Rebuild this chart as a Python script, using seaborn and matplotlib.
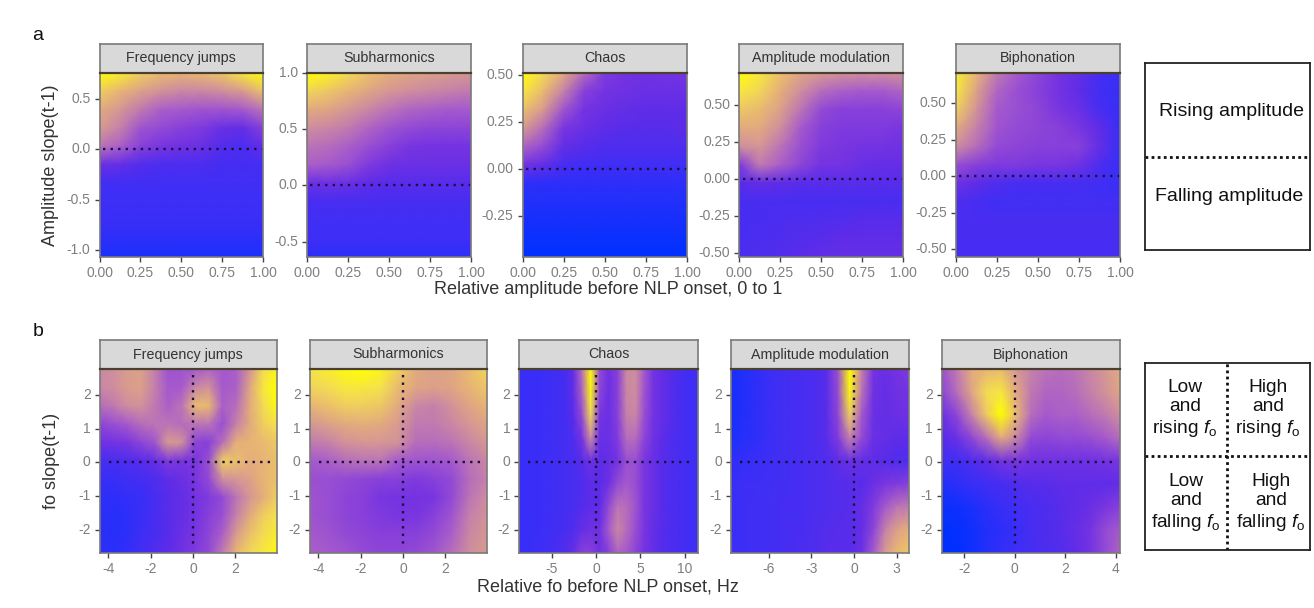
import numpy as np
import pandas as pd
import seaborn as sns
import matplotlib
matplotlib.use("Agg")
import matplotlib.pyplot as plt
from matplotlib.colors import LinearSegmentedColormap

sns.set_theme(style="white")
plt.rcParams['font.family'] = ['Liberation Sans', 'DejaVu Sans']
plt.rcParams['mathtext.fontset'] = 'custom'
plt.rcParams['mathtext.it'] = 'Liberation Sans:italic'
plt.rcParams['mathtext.rm'] = 'Liberation Sans'

W, H = 1314, 608
titles = ["Frequency jumps", "Subharmonics", "Chaos", "Amplitude modulation", "Biphonation"]

# colour strength, 0 (blue) to 100 (yellow); rows run top to bottom
amp_fj = [[100,94,84,78,76,78,82,92,100],[84,76,68,62,58,58,60,66,80],[72,64,54,46,44,42,42,44,52],
          [66,56,42,38,34,32,24,22,34],[52,46,34,30,26,24,17,15,22],[24,22,17,15,15,15,13,13,13],
          [12]*9,[11]*9,[10]*9,[8]*9,[5]*9]
amp_sub = [[100,96,88,80,74,70,68,66,64],[86,82,76,70,64,60,58,56,54],[72,70,64,58,52,48,46,44,44],
           [60,58,54,48,42,38,36,36,36],[52,50,46,40,34,30,28,28,28],[46,44,40,32,26,24,24,24,24],
           [24,26,24,20,18,18,18,18,18],[14]*9,[12]*9,[11]*9,[8]*9]
amp_chaos = [[100,88,72,50,32,28,26,28,28],[92,78,56,34,28,26,24,24,24],[80,66,42,28,24,22,20,20,20],
             [66,50,30,24,20,18,18,18,20],[48,38,22,18,16,16,16,16,16],[28,22,14,12,12,12,12,12,12],
             [8]*9,[6]*9,[4]*9,[2]*9,[0]*9]
amp_am = [[100,92,80,70,66,62,60,60,62],[92,86,74,60,50,46,44,44,48],[82,78,68,52,38,34,34,34,36],
          [72,72,60,44,34,32,32,32,30],[60,64,52,40,32,30,28,28,26],[32,54,46,36,28,28,24,22,22],
          [18,22,20,18,18,18,18,18,18],[14]*9,[14,14,15,16,16,17,18,18,18],
          [14,15,16,17,18,20,20,20,20],[15,16,17,19,21,22,22,22,22]]
amp_bi = [[94,76,54,44,36,28,22,14,10],[92,68,48,40,34,28,20,12,10],[84,62,44,40,36,30,24,14,10],
          [72,56,42,38,36,34,30,20,10],[60,50,38,36,34,34,34,22,10],[40,34,32,32,30,30,26,16,10],
          [26,20,16,14,14,14,14,12,10],[16,14,12,12,12,12,12,12,12],[14]*9,[14]*9,[13]*9]

fo_fj = [[58,60,66,68,56,42,42,44,48,44,46,62,88,96],[58,60,66,68,56,44,44,58,62,44,46,70,92,100],
         [50,54,60,62,54,46,52,78,78,46,50,72,88,98],[36,40,44,50,52,52,50,52,52,40,56,72,84,90],
         [26,28,30,36,42,66,62,36,34,50,74,76,78,82],[14,14,16,18,22,32,30,30,40,84,80,74,76,80],
         [10,10,12,13,16,20,24,30,38,60,64,68,76,80],[8,8,9,10,14,18,22,28,32,38,52,64,74,84],
         [8,7,8,10,14,18,22,28,34,40,56,72,84,90],[8,7,8,11,14,18,24,30,36,46,66,80,88,94],
         [8,8,9,12,16,20,26,32,38,54,76,86,92,98]]
fo_sub = [[90,94,98,100,96,84,72,68,70,78,86],[86,88,92,92,90,78,70,68,70,76,82],[76,80,84,84,82,72,58,56,62,70,76],
          [64,68,72,74,72,66,54,54,58,64,70],[54,56,62,64,64,62,50,50,52,58,64],[44,46,50,52,52,44,42,42,44,52,58],
          [40,40,38,36,34,34,32,34,38,50,56],[42,40,36,34,30,28,28,30,38,52,60],[42,40,36,34,32,30,30,34,42,56,62],
          [44,42,38,36,34,34,34,38,46,58,64],[46,44,42,38,36,36,38,42,50,60,66]]
fo_chaos = [[10,10,10,11,12,13,20,50,100,38,26,34,58,60,44,28,22,18,14,12,12],
            [10,10,10,11,12,13,20,46,98,36,24,34,58,60,42,28,22,18,14,12,12],
            [10,10,10,11,12,13,18,38,88,30,24,34,56,58,40,28,22,18,14,12,12],
            [10,10,10,11,12,13,16,28,60,24,24,32,50,50,36,26,20,16,14,12,12],
            [10,10,10,11,12,13,14,18,26,20,22,28,40,40,30,24,18,16,14,12,12],
            [10,10,10,11,12,13,14,16,20,18,26,38,44,40,30,24,18,15,14,12,12],
            [10,10,10,11,12,13,14,17,20,20,38,52,50,42,30,24,18,15,14,12,12],
            [10,10,10,11,12,14,16,22,26,26,44,58,50,40,30,22,18,15,14,12,12],
            [10,10,11,12,14,17,22,34,34,26,34,48,44,36,28,22,17,15,14,12,12]]
fo_am = [[4,6,8,10,12,13,14,15,18,40,100,56,28,24,28,32],[4,6,8,10,12,13,14,15,18,38,98,52,26,22,26,28],
         [4,6,8,10,12,13,14,15,18,36,84,44,24,22,24,26],[5,7,8,10,12,13,14,15,18,32,56,38,24,22,20,20],
         [8,9,10,11,12,13,14,15,16,20,24,22,20,18,16,16],[10,11,11,12,12,13,14,15,16,17,18,18,24,30,32,34],
         [10,11,12,12,13,13,14,15,16,17,18,22,32,44,52,54],[10,11,12,12,13,14,14,16,17,18,18,22,36,56,68,74],
         [11,11,12,12,13,14,15,16,18,18,18,24,44,66,78,82]]
fo_bi = [[40,54,72,76,78,64,56,52,50,52,58,64,72],[36,50,70,88,92,72,54,48,48,50,56,62,70],
         [24,36,56,82,100,78,50,44,46,46,50,54,60],[18,24,36,50,72,58,38,36,38,38,40,44,50],
         [12,12,16,20,28,30,26,26,26,26,26,28,30],[6,8,10,12,14,16,18,18,20,20,20,20,22],
         [2,3,5,8,10,12,14,16,18,20,24,30,34],[0,1,3,6,8,10,14,16,18,22,28,38,44],
         [0,0,3,6,9,11,13,15,17,20,28,38,48]]

amp_grids = [amp_fj, amp_sub, amp_chaos, amp_am, amp_bi]
fo_grids = [fo_fj, fo_sub, fo_chaos, fo_am, fo_bi]

amp_xlim = (0.0, 1.0)
amp_xticks = [0.0, 0.25, 0.5, 0.75, 1.0]
amp_ylims = [(-1.06, 0.76), (-0.633, 1.0), (-0.466, 0.512), (-0.524, 0.722), (-0.548, 0.71)]
amp_yticks = [[-1.0, -0.5, 0.0, 0.5], [-0.5, 0.0, 0.5, 1.0], [-0.25, 0.0, 0.25, 0.5],
              [-0.5, -0.25, 0.0, 0.25, 0.5], [-0.5, -0.25, 0.0, 0.25, 0.5]]
amp_yfmt = ["%.1f", "%.1f", "%.2f", "%.2f", "%.2f"]

fo_xlims = [(-4.4, 3.96), (-4.4, 3.96), (-8.66, 11.5), (-8.66, 3.87), (-2.9, 4.17)]
fo_xticks = [[-4, -2, 0, 2], [-4, -2, 0, 2], [-5, 0, 5, 10], [-6, -3, 0, 3], [-2, 0, 2, 4]]
fo_ylim = (-2.68, 2.78)
fo_yticks = [-2, -1, 0, 1, 2]

amp_x_px = [(99.6, 263), (307, 471), (522.5, 687), (739.4, 903), (956, 1120)]
fo_x_px = [(99.7, 277), (309.7, 487), (519.3, 697.8), (731, 909), (941.7, 1120)]

cmap = LinearSegmentedColormap.from_list(
    "blue_yellow", [(0, "#0030ff"), (0.1, "#3a2ef7"), (0.2, "#5f2ce8"), (0.3, "#7a35e0"), (0.45, "#a85ccb"),
                    (0.6, "#cf8e9e"), (0.75, "#e6b078"), (0.9, "#f5e150"), (1, "#ffff00")])

GREY = "#7f7f7f"
BORDER = "#7a7a7a"
DOT = (0, (1, 2.2))
fig = plt.figure(figsize=(W / 100, H / 100), dpi=100, facecolor="white")


def axes_px(x0, x1, y0, y1):
    return fig.add_axes([x0 / W, 1 - y1 / H, (x1 - x0) / W, (y1 - y0) / H])


def panel(grid, xlim, ylim, xticks, yticks, xpos, ypx, title, fmt_x, fmt_y, vmargin, hmargin):
    ax = axes_px(xpos[0], xpos[1], ypx[0], ypx[1])
    arr = np.array(grid) / 100.0
    rows, cols = arr.shape
    sns.heatmap(pd.DataFrame(arr), ax=ax, cmap=cmap, vmin=0, vmax=1, cbar=False, shading="gouraud")
    ax.set_xlim(0, cols - 1)
    ax.set_ylim(rows - 1, 0)
    to_x = lambda v: (v - xlim[0]) / (xlim[1] - xlim[0]) * (cols - 1)
    to_y = lambda v: (ylim[1] - v) / (ylim[1] - ylim[0]) * (rows - 1)
    ax.set_xticks([to_x(v) for v in xticks])
    ax.set_xticklabels([fmt_x(v) for v in xticks], rotation=0)
    ax.set_yticks([to_y(v) for v in yticks])
    ax.set_yticklabels([fmt_y(v) for v in yticks], rotation=0)
    ax.tick_params(axis="both", length=3.5, width=1.0, color="#444444", labelcolor=GREY,
                   labelsize=10, pad=3, bottom=True, left=True)
    ax.set_xlabel("")
    ax.set_ylabel("")
    ax.hlines(to_y(0), to_x(hmargin[0]), to_x(hmargin[1]), colors="#1a1040", linestyles=DOT, linewidth=1.7)
    if vmargin is not None:
        ax.vlines(to_x(0), to_y(vmargin[1]), to_y(vmargin[0]), colors="#1a1040", linestyles=DOT, linewidth=1.7)
    for s in ax.spines.values():
        s.set_visible(True)
        s.set_color(BORDER)
        s.set_linewidth(1.2)
    # facet strip
    st = axes_px(xpos[0], xpos[1], ypx[0] - 29, ypx[0])
    st.set_facecolor("#d9d9d9")
    st.set_xticks([])
    st.set_yticks([])
    for k, s in st.spines.items():
        s.set_visible(True)
        s.set_color(BORDER)
        s.set_linewidth(1.2)
    st.spines["bottom"].set_color("#4a4030")
    st.spines["bottom"].set_linewidth(1.6)
    st.text(0.5, 0.5, title, ha="center", va="center", fontsize=10.3, color="#333333", transform=st.transAxes)
    return ax


for i in range(5):
    f = amp_yfmt[i]
    panel(amp_grids[i], amp_xlim, amp_ylims[i], amp_xticks, amp_yticks[i], amp_x_px[i], (72.7, 256.5),
          titles[i], lambda v: "%.2f" % v, lambda v, f=f: f % v, None, (0.02, 1.0))
for i in range(5):
    xl = fo_xlims[i]
    span = xl[1] - xl[0]
    panel(fo_grids[i], xl, fo_ylim, fo_xticks[i], fo_yticks, fo_x_px[i], (369, 552.5),
          titles[i], lambda v: "%d" % v, lambda v: "%d" % v, (-2.55, 2.6),
          (xl[0] + 0.05 * span, xl[1] - 0.03 * span))


def ftext(x, y, s, **kw):
    return fig.text(x / W, 1 - y / H, s, **kw)


ftext(38, 35, "a", fontsize=14, color="#111111", ha="center", va="center")
ftext(38, 331, "b", fontsize=14, color="#111111", ha="center", va="center")
ftext(608, 290, "Relative amplitude before NLP onset, 0 to 1", fontsize=13, color="#333333", ha="center", va="center")
ftext(608, 587, "Relative fo before NLP onset, Hz", fontsize=13, color="#333333", ha="center", va="center")
ftext(51, 165, "Amplitude slope(t-1)", fontsize=13, color="#333333", rotation=90, ha="center", va="center")
ftext(52, 461, "fo slope(t-1)", fontsize=13, color="#333333", rotation=90, ha="center", va="center")

# right-hand keys
box_a = axes_px(1144.5, 1310, 63.5, 250.5)
box_b = axes_px(1144.5, 1310, 363, 549.5)
for b in (box_a, box_b):
    b.set_xlim(0, 1)
    b.set_ylim(0, 1)
    b.set_xticks([])
    b.set_yticks([])
    b.set_facecolor("white")
    for s in b.spines.values():
        s.set_visible(True)
        s.set_color("#222222")
        s.set_linewidth(1.3)
    b.hlines(0.5, 0, 1, colors="#111111", linestyles=(0, (1, 1.2)), linewidth=2)
box_b.vlines(0.5, 0, 1, colors="#111111", linestyles=(0, (1, 1.2)), linewidth=2)
ktxt = dict(color="#111111", ha="center", va="center")
box_a.text(0.523, 0.742, "Rising amplitude", fontsize=14, **ktxt)
box_a.text(0.51, 0.288, "Falling amplitude", fontsize=14, **ktxt)
k2 = dict(fontsize=13.8, linespacing=1.15, **ktxt)
box_b.text(0.245, 0.753, "Low\nand\nrising $f_{\\mathrm{o}}$", **k2)
box_b.text(0.746, 0.753, "High\nand\nrising $f_{\\mathrm{o}}$", **k2)
box_b.text(0.25, 0.249, "Low\nand\nfalling $f_{\\mathrm{o}}$", **k2)
box_b.text(0.764, 0.249, "High\nand\nfalling $f_{\\mathrm{o}}$", **k2)

fig.savefig("out.png", dpi=100, facecolor="white")
